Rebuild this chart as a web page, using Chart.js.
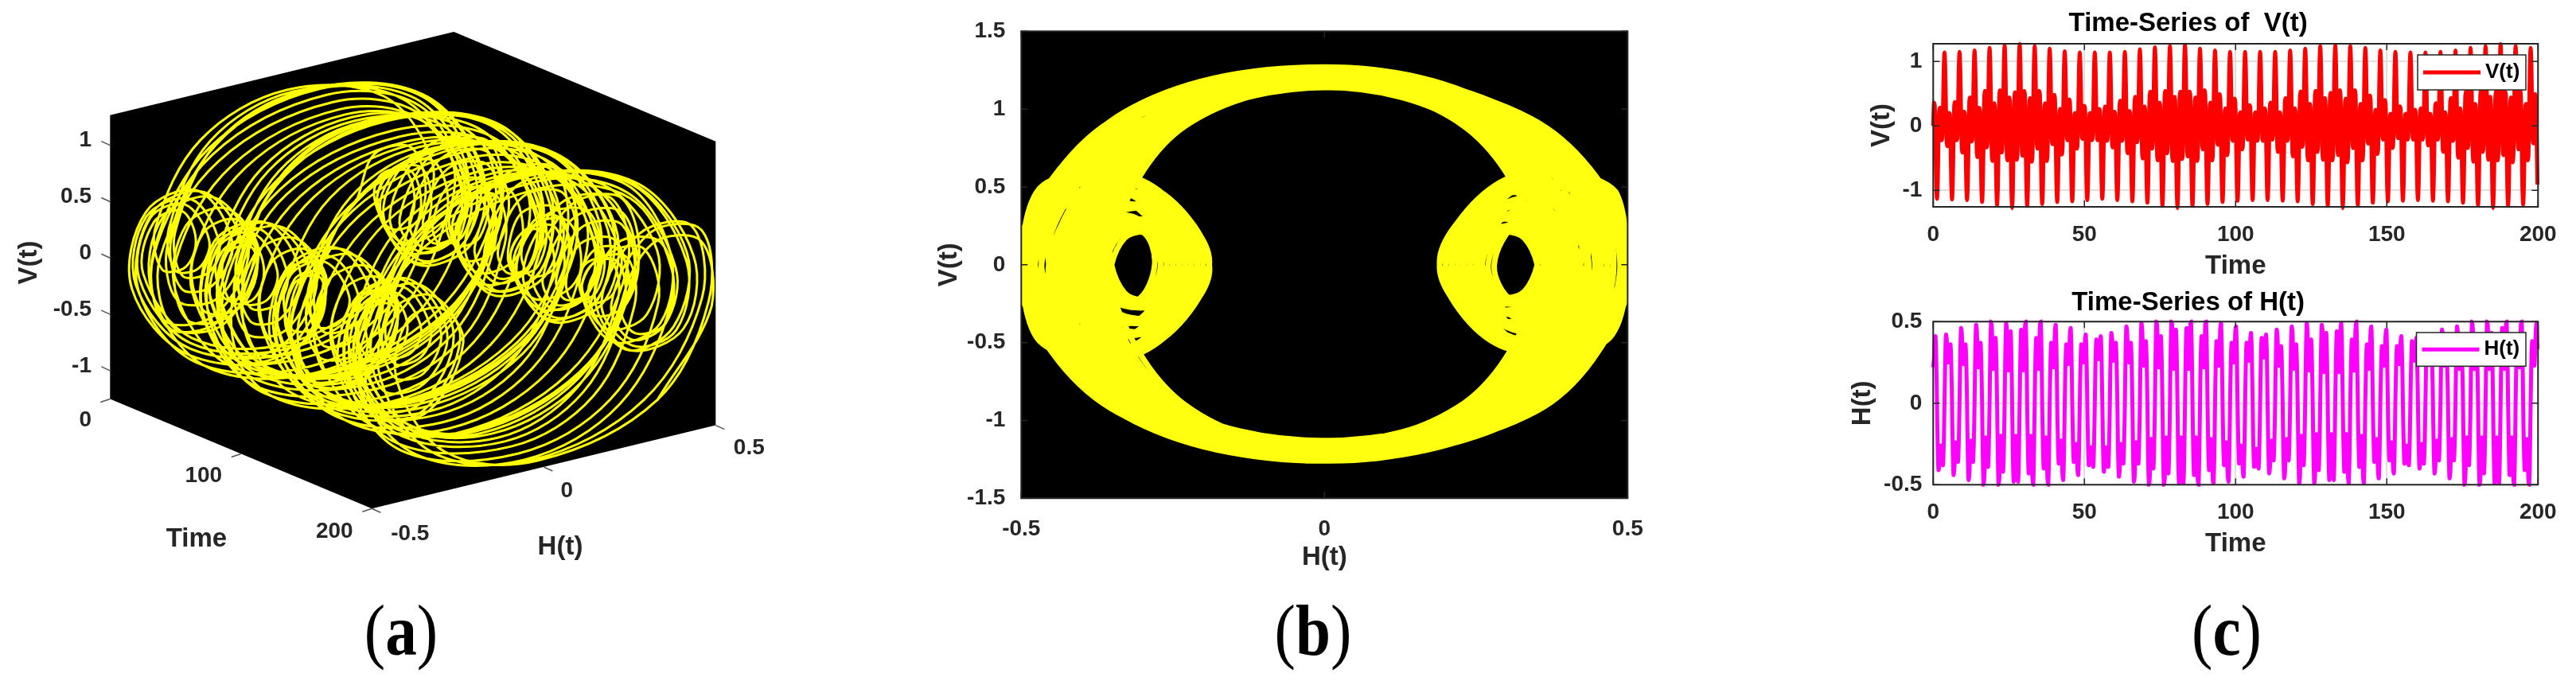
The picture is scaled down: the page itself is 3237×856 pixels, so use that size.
<!DOCTYPE html>
<html><head><meta charset="utf-8">
<style>
html,body{margin:0;padding:0;background:#fff;width:3237px;height:856px;overflow:hidden}
canvas{position:absolute;display:block}
.cap{position:absolute;top:743px;font:400 90px/100px "Liberation Serif",serif;color:#000;transform:translateX(-50%) scaleX(.88);white-space:nowrap}
.cap b{font-weight:700}
</style>
<script src="https://cdn.jsdelivr.net/npm/chart.js@4"></script>
</head><body>
<canvas id="a" width="1020" height="740" style="left:0;top:0;width:1020px;height:740px"></canvas>
<canvas id="b" width="940" height="730" style="left:1170px;top:0;width:940px;height:730px"></canvas>
<canvas id="c1" width="927" height="370" style="left:2310px;top:0;width:927px;height:370px"></canvas>
<canvas id="c2" width="927" height="400" style="left:2310px;top:345px;width:927px;height:400px"></canvas>
<div class="cap" style="left:504px">(<b>a</b>)</div>
<div class="cap" style="left:1650px">(<b>b</b>)</div>
<div class="cap" style="left:2798px">(<b>c</b>)</div>
<script>
const TIME_STEP = 0.2485;
const H_VALUES = [
.22,.27,.38,.41,.27,
.00,-.27,-.41,-.38,-.30,-.26,-.29,-.36,-.38,-.25,
.00,.28,.42,.39,.30,.25,.27,.34,.36,.24,
.00,-.29,-.44,-.41,-.31,-.24,-.27,-.34,-.36,-.24,
.00,.30,.46,.43,.31,.24,.27,.34,.36,.24,
.00,-.31,-.47,-.44,-.31,-.23,-.26,-.34,-.36,-.24,
.00,.32,.48,.45,.31,.22,.26,.35,.37,.25,
.00,-.33,-.50,-.46,-.31,-.21,-.27,-.36,-.39,-.26,
.00,.33,.50,.46,.31,.21,.27,.37,.40,.26,
.00,-.33,-.50,-.46,-.31,-.20,-.27,-.39,-.42,-.28,
.00,.32,.49,.46,.30,.20,.28,.41,.44,.29,
.00,-.32,-.48,-.45,-.30,-.20,-.30,-.45,-.48,-.32,
.00,.30,.45,.42,.29,.20,.31,.46,.50,.33,
.00,-.28,-.43,-.40,-.28,-.20,-.31,-.46,-.50,-.33,
.00,.27,.40,.37,.27,.21,.32,.47,.50,.34,
.00,-.26,-.40,-.37,-.27,-.21,-.31,-.46,-.50,-.33,
.00,.25,.37,.35,.26,.22,.31,.45,.48,.32,
.00,-.25,-.37,-.35,-.27,-.23,-.31,-.44,-.47,-.31,
.00,.24,.36,.34,.27,.24,.31,.43,.46,.30,
.00,-.24,-.36,-.34,-.27,-.25,-.30,-.41,-.44,-.29,
.00,.24,.36,.34,.27,.25,.30,.39,.42,.28,
.00,-.25,-.38,-.36,-.29,-.27,-.30,-.37,-.39,-.26,
.00,.26,.39,.37,.30,.27,.31,.38,.41,.27,
.01,-.28,-.42,-.39,-.31,-.27,-.30,-.37,-.39,-.26,
-.01,.29,.43,.40,.31,.26,.28,.35,.37,.25,
.01,-.30,-.45,-.42,-.32,-.25,-.28,-.35,-.37,-.25,
-.01,.31,.47,.44,.32,.25,.28,.35,.37,.25,
.01,-.32,-.48,-.45,-.32,-.24,-.27,-.35,-.37,-.25,
-.01,.33,.49,.46,.32,.23,.27,.36,.38,.26,
.01,-.34,-.50,-.47,-.32,-.22,-.28,-.37,-.40,-.27,
-.01,.34,.50,.47,.32,.22,.28,.38,.41,.27,
.01,-.34,-.50,-.47,-.32,-.21,-.28,-.40,-.43,-.29,
-.01,.33,.50,.47,.31,.21,.29,.42,.45,.30,
.01,-.33,-.49,-.46,-.31,-.21,-.31,-.46,-.49,-.33,
-.01,.31,.46,.43,.30,.21,.32,.47,.50,.34,
.01,-.29,-.44,-.41,-.29,-.21,-.32,-.47,-.50,-.34,
-.01,.28,.41,.38,.28,.22,.33,.48,.50,.34,
.01,-.27,-.41,-.38,-.28,-.22,-.32,-.47,-.49,-.34,
-.01,.26,.38,.36,.27,.23,.32,.46,.49,.33,
.01,-.26,-.38,-.36,-.28,-.24,-.32,-.45,-.48,-.32,
-.01,.25,.37,.35,.28,.25,.32,.44,.47,.31,
.01,-.25,-.37,-.35,-.28,-.26,-.31,-.42,-.45,-.30,
-.01,.25,.37,.35,.28,.26,.30,.40,.43,.29,
.01,-.26,-.39,-.37,-.30,-.28,-.31,-.38,-.40,-.27,
-.01,.27,.40,.38,.31,.28,.32,.39,.42,.28,
-.01,-.29,-.43,-.40,-.30,-.23,-.26,-.33,-.35,-.23,
.01,.30,.45,.42,.30,.23,.26,.33,.35,.23,
-.01,-.31,-.46,-.43,-.30,-.22,-.25,-.33,-.35,-.23,
.01,.32,.47,.44,.30,.21,.25,.34,.36,.24,
-.01,-.32,-.49,-.45,-.30,-.20,-.26,-.35,-.38,-.25,
.01,.32,.49,.45,.30,.20,.26,.36,.39,.25,
-.01,-.32,-.49,-.45,-.30,-.19,-.26,-.38,-.41,-.27,
.01,.31,.48,.45,.29,.19,.27,.40,.43,.28,
-.01,-.31,-.47,-.44,-.29,-.19,-.29,-.44,-.47,-.31,
.01,.29,.44,.41,.28,.19,.30,.45,.49,.32,
-.01,-.27,-.42,-.39,-.27,-.19,-.30,-.45,-.49,-.32,
.01,.26,.39,.36,.26,.20,.31,.46,.50,.33,
-.01,-.25,-.39,-.36,-.26,-.20,-.30,-.45,-.49,-.32,
.01,.24,.36,.34,.25,.21,.30,.44,.47,.31,
-.01,-.24,-.36,-.34,-.26,-.22,-.30,-.43,-.46,-.30,
.01,.23,.35,.33,.26,.23,.30,.42,.45,.29,
-.01,-.23,-.35,-.33,-.26,-.24,-.29,-.40,-.43,-.28,
.01,.23,.35,.33,.26,.24,.28,.38,.41,.27,
-.01,-.24,-.37,-.35,-.28,-.26,-.29,-.36,-.38,-.25,
.01,.25,.38,.36,.29,.26,.30,.37,.40,.26,
.00,-.26,-.40,-.37,-.29,-.25,-.28,-.35,-.37,-.24,
.00,.27,.41,.38,.29,.24,.26,.33,.35,.23,
.00,-.28,-.43,-.40,-.30,-.23,-.26,-.33,-.35,-.23,
.00,.29,.45,.42,.30,.23,.26,.33,.35,.23,
.00,-.30,-.46,-.43,-.30,-.22,-.25,-.33,-.35,-.23,
.00,.33,.47,.44,.30,.21,.25,.34,.36,.24,
.00,-.33,-.50,-.46,-.32,-.21,-.26,-.35,-.38,-.25,
.00,.33,.50,.46,.32,.21,.27,.37,.41,.27,
.00,-.34,-.50,-.47,-.32,-.21,-.28,-.40,-.43,-.29,
.00,.33,.50,.47,.31,.21,.27,.40,.43,.28,
.00,-.32,-.49,-.46,-.31,-.21,-.31,-.46,-.49,-.33,
.00,.30,.46,.43,.30,.21,.32,.47,.50,.33,
.00,-.29,-.44,-.41,-.29,-.21,-.32,-.47,-.50,-.34,
.00,.27,.41,.38,.28,.22,.33,.48,.50,.35,
.00,-.27,-.41,-.38,-.28,-.22,-.32,-.47,-.50,-.34,
.00,.26,.38,.36,.27,.23,.32,.46,.49,.33
];
const V_VALUES = [
.00,.36,.32,-.20,-.87,
-1.13,-.87,-.20,.24,.28,.00,-.22,-.19,.20,.88,
1.14,.88,.20,-.27,-.31,.00,.20,.18,-.20,-.88,
-1.14,-.88,-.20,.32,.37,.00,-.22,-.19,.20,.89,
1.15,.89,.20,-.35,-.41,.00,.22,.19,-.20,-.89,
-1.15,-.89,-.20,.38,.44,.00,-.24,-.21,.20,.90,
1.17,.90,.19,-.42,-.48,.00,.28,.24,-.20,-.91,
-1.18,-.91,-.19,.46,.54,.00,-.33,-.29,.19,.93,
1.21,.93,.18,-.46,-.54,.00,.35,.30,-.19,-.95,
-1.23,-.95,-.18,.48,.55,.00,-.41,-.35,.18,.96,
1.25,.96,.18,-.46,-.53,.00,.44,.38,-.18,-.97,
-1.26,-.97,-.18,.45,.52,.00,-.52,-.45,.18,.98,
1.27,.98,.19,-.40,-.46,.00,.54,.48,-.18,-.95,
-1.24,-.95,-.19,.37,.43,.00,-.55,-.48,.17,.95,
1.24,.95,.19,-.30,-.35,.00,.54,.48,-.17,-.93,
-1.21,-.93,-.20,.30,.35,.00,-.54,-.46,.18,.92,
1.20,.92,.20,-.24,-.28,.00,.48,.42,-.18,-.91,
-1.18,-.91,-.20,.22,.26,.00,-.44,-.38,.19,.89,
1.16,.89,.20,-.19,-.22,.00,.41,.35,-.19,-.90,
-1.17,-.90,-.20,.18,.20,.00,-.35,-.30,.20,.88,
1.14,.88,.20,-.18,-.20,.00,.31,.27,-.20,-.89,
-1.15,-.89,-.20,.18,.20,.00,-.22,-.19,.20,.88,
1.14,.88,.20,-.19,-.22,.00,.26,.22,-.20,-.87,
-1.13,-.87,-.19,.25,.30,.01,-.23,-.20,.19,.88,
1.14,.88,.21,-.28,-.33,.00,.22,.19,-.19,-.89,
-1.15,-.89,-.19,.33,.39,.00,-.23,-.20,.21,.89,
1.15,.89,.19,-.37,-.42,.01,.23,.20,-.21,-.90,
-1.17,-.90,-.21,.39,.45,.00,-.25,-.22,.19,.92,
1.19,.92,.20,-.43,-.50,.00,.30,.25,-.19,-.92,
-1.19,-.92,-.18,.47,.53,.00,-.35,-.30,.20,.94,
1.22,.94,.19,-.47,-.53,.00,.36,.31,-.18,-.95,
-1.24,-.95,-.19,.49,.54,.01,-.42,-.36,.19,.95,
1.24,.95,.17,-.47,-.54,.00,.45,.39,-.19,-.97,
-1.26,-.97,-.17,.46,.53,.00,-.51,-.46,.17,.97,
1.26,.97,.18,-.41,-.47,.00,.53,.49,-.19,-.95,
-1.24,-.95,-.20,.38,.44,.00,-.54,-.49,.18,.92,
1.20,.92,.20,-.31,-.36,.00,.55,.47,-.18,-.93,
-1.21,-.93,-.19,.31,.36,.00,-.53,-.47,.17,.90,
1.17,.90,.19,-.25,-.29,.00,.49,.43,-.19,-.91,
-1.18,-.91,-.21,.23,.27,.00,-.45,-.39,.18,.89,
1.15,.89,.21,-.20,-.23,.00,.42,.36,-.18,-.89,
-1.16,-.89,-.19,.19,.21,.00,-.36,-.31,.21,.89,
1.15,.89,.19,-.19,-.21,.00,.32,.28,-.21,-.89,
-1.15,-.89,-.21,.19,.21,.00,-.23,-.20,.19,.89,
1.15,.89,.21,-.20,-.23,.00,.27,.23,-.19,-.89,
-1.15,-.89,-.21,.31,.36,.00,-.21,-.18,.19,.89,
1.15,.89,.21,-.34,-.40,.00,.21,.18,-.21,-.89,
-1.16,-.89,-.21,.37,.43,.00,-.23,-.20,.21,.90,
1.17,.90,.20,-.41,-.47,.00,.27,.23,-.21,-.90,
-1.17,-.90,-.20,.45,.53,.00,-.32,-.28,.20,.92,
1.20,.92,.19,-.45,-.53,.00,.34,.29,-.20,-.93,
-1.21,-.93,-.19,.47,.54,.00,-.40,-.34,.19,.95,
1.24,.95,.19,-.45,-.52,.00,.43,.37,-.19,-.95,
-1.24,-.95,-.17,.44,.51,.00,-.53,-.46,.19,.96,
1.25,.96,.20,-.39,-.45,.00,.55,.47,-.17,-.97,
-1.26,-.97,-.18,.36,.42,.00,-.56,-.47,.18,.95,
1.24,.95,.18,-.29,-.34,.00,.55,.49,-.18,-.95,
-1.23,-.95,-.21,.29,.34,.00,-.53,-.45,.17,.93,
1.21,.93,.21,-.23,-.27,.00,.47,.41,-.17,-.92,
-1.19,-.92,-.19,.21,.25,.00,-.43,-.37,.18,.90,
1.17,.90,.19,-.18,-.21,.00,.40,.34,-.20,-.90,
-1.17,-.90,-.19,.17,.19,.00,-.34,-.29,.19,.89,
1.15,.89,.19,-.17,-.19,.00,.30,.26,-.19,-.89,
-1.16,-.89,-.19,.17,.19,.00,-.21,-.18,.21,.88,
1.14,.88,.19,-.18,-.21,.00,.25,.21,-.21,-.89,
-1.15,-.89,-.19,.23,.27,.00,-.21,-.18,.19,.88,
1.14,.88,.19,-.26,-.30,.00,.19,.17,-.19,-.89,
-1.16,-.89,-.21,.31,.35,.00,-.21,-.18,.21,.89,
1.15,.89,.19,-.36,-.40,.00,.21,.18,-.19,-.90,
-1.17,-.90,-.21,.37,.43,.00,-.23,-.22,.21,.90,
1.17,.90,.18,-.43,-.49,.00,.27,.23,-.21,-.92,
-1.19,-.92,-.20,.45,.53,.00,-.34,-.30,.18,.93,
1.21,.93,.17,-.45,-.55,.00,.34,.31,-.20,-.95,
-1.23,-.95,-.17,.47,.56,.00,-.40,-.36,.19,.95,
1.24,.95,.17,-.45,-.52,.00,.45,.37,-.17,-.97,
-1.26,-.97,-.19,.44,.53,.00,-.53,-.44,.17,.98,
1.27,.98,.18,-.41,-.45,.00,.53,.49,-.17,-.95,
-1.24,-.95,-.18,.38,.44,.00,-.56,-.47,.16,.95,
1.24,.95,.18,-.29,-.36,.00,.55,.47,-.18,-.94,
-1.22,-.94,-.21,.31,.34,.00,-.53,-.47,.19,.93,
1.21,.93,.21,-.25,-.27,.00,.49,.41,-.19,-.91
];
const TIME_VALUES = H_VALUES.map((_, i) => +(i * TIME_STEP).toFixed(3));

const TIME_TICKS = [0, 50, 100, 150, 200];
const TIME_TICKS_3D = [0, 100, 200];
const H_TICKS_3D = [-0.5, 0, 0.5];
const V_TICKS_3D = [-1, -0.5, 0, 0.5, 1];
const PHASE_H_TICKS = [-0.5, 0, 0.5];
const PHASE_V_TICKS = [-1.5, -1, -0.5, 0, 0.5, 1, 1.5];
const SERIES_V_TICKS = [-1, 0, 1];
const SERIES_H_TICKS = [-0.5, 0, 0.5];

const INK = '#262626';
const BOLD28 = {family: '"Liberation Sans"', size: 28, weight: 'bold'};
const BOLD33 = {family: '"Liberation Sans"', size: 33, weight: 'bold'};
Chart.defaults.animation = false;
Chart.defaults.devicePixelRatio = 1;
Chart.defaults.responsive = false;

const pairs = (xs, ys) => xs.map((x, i) => ({x, y: ys[i]}));

/* ---------- (a) isometric box, projected through hidden linear scales ---------- */
const VMIN3 = -1.252, VMAX3 = 1.268;
const project = (t, h, v) => ({
  x: t / 200 * 329 + (h + 0.5) * 432,
  y: (v - VMIN3) * 141.5 - t / 200 * 137.6 + (h + 0.5) * 104.6
});
const cubePlugin = {
  id: 'cube',
  beforeDatasetsDraw(c) {
    const g = c.ctx, sx = c.scales.x, sy = c.scales.y;
    const P = (t, h, v) => { const p = project(t, h, v); return [sx.getPixelForValue(p.x), sy.getPixelForValue(p.y)]; };
    const hex = [P(0,-.5,VMIN3), P(200,-.5,VMIN3), P(200,.5,VMIN3), P(200,.5,VMAX3), P(0,.5,VMAX3), P(0,-.5,VMAX3)];
    g.save();
    g.fillStyle = '#000';
    g.beginPath(); hex.forEach((p, i) => i ? g.lineTo(p[0], p[1]) : g.moveTo(p[0], p[1])); g.closePath(); g.fill();
    g.strokeStyle = '#555'; g.lineWidth = 1.5;
    const tick = (p, dx, dy) => { g.beginPath(); g.moveTo(p[0], p[1]); g.lineTo(p[0] + dx, p[1] + dy); g.stroke(); };
    g.fillStyle = INK; g.font = 'bold 28px "Liberation Sans"'; g.textBaseline = 'middle';
    V_TICKS_3D.forEach(v => { const p = P(0, -.5, v); tick(p, -11, -5); g.textAlign = 'right'; g.fillText(String(v), 115, p[1] - 6); });
    const tOff = [[-31, 27], [-47, 27.5], [-47, 29]];
    TIME_TICKS_3D.forEach((t, i) => { const p = P(t, -.5, VMIN3); tick(p, -12, 4); g.textAlign = 'center'; g.fillText(String(t), p[0] + tOff[i][0], p[1] + tOff[i][1]); });
    const hOff = [[48, 32], [29, 30], [42, 29]];
    H_TICKS_3D.forEach((h, i) => { const p = P(200, h, VMIN3); tick(p, 11, 5); g.textAlign = 'center'; g.fillText(String(h), p[0] + hOff[i][0], p[1] + hOff[i][1]); });
    g.font = 'bold 33px "Liberation Sans"';
    g.fillText('Time', 247, 678);
    g.fillText('H(t)', 704, 688);
    g.translate(37, 330); g.rotate(-Math.PI / 2); g.fillText('V(t)', 0, 0);
    g.restore();
  }
};
const proj = TIME_VALUES.map((t, i) => project(t, H_VALUES[i], V_VALUES[i]));
new Chart(document.getElementById('a'), {
  type: 'scatter',
  data: {datasets: [{label: 'V(t)', data: proj, showLine: true, pointRadius: 0, borderColor: '#ffff00', borderWidth: 3, tension: 0.35, clip: false}]},
  options: {
    layout: {padding: {left: 138.3, top: 40, right: 120.7, bottom: 100.7}},
    plugins: {legend: {display: false}, tooltip: {enabled: false}},
    scales: {x: {type: 'linear', display: false, min: 0, max: 761}, y: {type: 'linear', display: false, min: -137.6, max: 461.2}}
  },
  plugins: [cubePlugin]
});

/* ---------- shared frame: box and inward ticks ---------- */
const framePlugin = {
  id: 'frame',
  afterDatasetsDraw(c) {
    const g = c.ctx, a = c.chartArea, L = 8;
    g.save();
    g.strokeStyle = INK; g.lineWidth = 2;
    g.strokeRect(a.left, a.top, a.right - a.left, a.bottom - a.top);
    g.lineWidth = 1.5;
    c.scales.x.ticks.forEach(t => { const x = c.scales.x.getPixelForValue(t.value); g.beginPath(); g.moveTo(x, a.top); g.lineTo(x, a.top + L); g.moveTo(x, a.bottom); g.lineTo(x, a.bottom - L); g.stroke(); });
    c.scales.y.ticks.forEach(t => { const y = c.scales.y.getPixelForValue(t.value); g.beginPath(); g.moveTo(a.left, y); g.lineTo(a.left + L, y); g.moveTo(a.right, y); g.lineTo(a.right - L, y); g.stroke(); });
    const lg = c.options.plugins.boxLegend;
    if (lg) {
      g.fillStyle = '#fff'; g.fillRect(lg.x, lg.y, lg.w, lg.h);
      g.strokeStyle = INK; g.lineWidth = 1.5; g.strokeRect(lg.x, lg.y, lg.w, lg.h);
      const ds = c.data.datasets[0], my = lg.y + lg.h / 2;
      g.strokeStyle = ds.borderColor; g.lineWidth = 5; g.beginPath(); g.moveTo(lg.x + 7, my); g.lineTo(lg.x + 79, my); g.stroke();
      g.fillStyle = '#000'; g.font = 'bold 26px "Liberation Sans"'; g.textAlign = 'left'; g.textBaseline = 'middle';
      g.fillText(ds.label, lg.x + 85, my);
    }
    g.restore();
  }
};
const fixedW = w => s => { s.width = w; };
const fixedH = h => s => { s.height = h; };
const useTicks = arr => s => { s.ticks = arr.map(value => ({value})); };
const tickText = v => String(v);

/* ---------- (b) phase portrait ---------- */
new Chart(document.getElementById('b'), {
  type: 'scatter',
  data: {datasets: [{label: 'V(t)', data: pairs(H_VALUES, V_VALUES), showLine: true, pointRadius: 0, borderColor: '#ffff10', borderWidth: 7, tension: 0.35, borderJoinStyle: 'round'}]},
  options: {
    layout: {padding: {top: 39.3, right: 64.7, left: 0, bottom: 0}},
    plugins: {legend: {display: false}, tooltip: {enabled: false}},
    scales: {
      x: {type: 'linear', min: -0.5, max: 0.5, afterBuildTicks: useTicks(PHASE_H_TICKS), afterFit: fixedH(103.7),
        grid: {display: false}, border: {display: false},
        ticks: {padding: 14, color: INK, font: BOLD28, maxRotation: 0, autoSkip: false, callback: tickText},
        title: {display: true, text: 'H(t)', color: INK, font: BOLD33, padding: {top: 9, bottom: 9}}},
      y: {type: 'linear', min: -1.5, max: 1.5, afterBuildTicks: useTicks(PHASE_V_TICKS), afterFit: fixedW(113.3),
        grid: {display: false}, border: {display: false},
        ticks: {padding: 12, color: INK, font: BOLD28, autoSkip: false, callback: tickText},
        title: {display: true, text: 'V(t)', color: INK, font: BOLD33, padding: {top: 3, bottom: 0}}}
    }
  },
  plugins: [{id: 'blackArea', beforeDatasetsDraw(c) { const a = c.chartArea, g = c.ctx; g.save(); g.fillStyle = '#000'; g.fillRect(a.left, a.top, a.right - a.left, a.bottom - a.top); g.restore(); }}, framePlugin]
});

/* ---------- (c) time series ---------- */
function series(id, opt) {
  new Chart(document.getElementById(id), {
    type: 'scatter',
    data: {datasets: [{label: opt.label, data: pairs(TIME_VALUES, opt.values), showLine: true, pointRadius: 0, borderColor: opt.color, borderWidth: 5, tension: 0.3, clip: 5}]},
    options: {
      layout: {padding: {right: 47.7, left: 0, top: 0, bottom: 0}},
      plugins: {
        legend: {display: false}, tooltip: {enabled: false},
        title: {display: true, text: opt.title, color: '#000', font: BOLD33, padding: opt.titlePad},
        boxLegend: opt.legend
      },
      scales: {
        x: {type: 'linear', min: 0, max: 200, afterBuildTicks: useTicks(TIME_TICKS), afterFit: fixedH(opt.xH),
          grid: {color: '#dedede', lineWidth: 2, drawTicks: false}, border: {display: false},
          ticks: {padding: 18, color: INK, font: BOLD28, maxRotation: 0, autoSkip: false, callback: tickText},
          title: {display: true, text: 'Time', color: INK, font: BOLD33, padding: {top: opt.xTitlePad, bottom: opt.xTitlePad}}},
        y: {type: 'linear', min: opt.min, max: opt.max, afterBuildTicks: useTicks(opt.ticks), afterFit: fixedW(119.3),
          grid: {color: '#dedede', lineWidth: 2, drawTicks: false}, border: {display: false},
          ticks: {padding: 14, color: INK, font: BOLD28, autoSkip: false, callback: tickText},
          title: {display: true, text: opt.label, color: INK, font: BOLD33, padding: {top: opt.yTitlePad, bottom: 0}}}
      }
    },
    plugins: [framePlugin]
  });
}
series('c1', {label: 'V(t)', values: V_VALUES, color: '#ff0000', title: 'Time-Series of  V(t)', titlePad: {top: 10.2, bottom: 5.2},
  min: -1.255, max: 1.276, ticks: SERIES_V_TICKS, xH: 110, xTitlePad: 15.5, yTitlePad: 35.2,
  legend: {x: 728, y: 69, w: 136, h: 44}});
series('c2', {label: 'H(t)', values: H_VALUES, color: '#ff00ff', title: 'Time-Series of H(t)', titlePad: {top: 16.2, bottom: 3.5},
  min: -0.5, max: 0.5, ticks: SERIES_H_TICKS, xH: 135.7, xTitlePad: 41, yTitlePad: 11.2,
  legend: {x: 726.5, y: 73, w: 137.5, h: 42.3}});
</script>
</body></html>
